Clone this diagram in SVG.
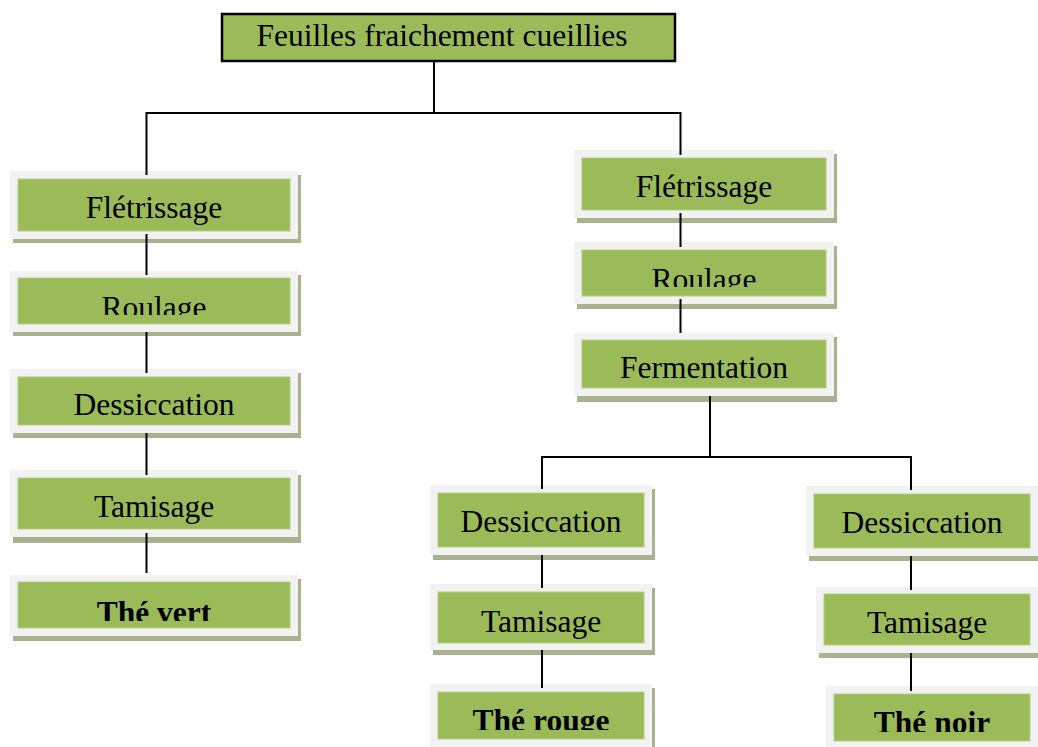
<svg xmlns="http://www.w3.org/2000/svg" width="1038" height="747" viewBox="0 0 1038 747">
<style>
.sh{fill:#a9b28f}
.fr{fill:#f2f2f2}
.gr{fill:#9bbb59;stroke:#b5cc85;stroke-width:1}
.t{font-family:"Liberation Serif","Times New Roman",serif;font-size:31.5px;fill:#000;text-anchor:middle}
.b{font-weight:bold}
.ln{stroke:#000;stroke-width:2;fill:none}
</style>
<defs>
<clipPath id="cL2"><rect x="18" y="278" width="272" height="37"/></clipPath>
<clipPath id="cL5"><rect x="18" y="582" width="272" height="39"/></clipPath>
<clipPath id="cR2"><rect x="582" y="250" width="244" height="37"/></clipPath>
<clipPath id="cM3"><rect x="438" y="692" width="206" height="38"/></clipPath>
<clipPath id="cB3"><rect x="834" y="694" width="196" height="38"/></clipPath>
</defs>
<rect width="1038" height="747" fill="#fff"/>

<g id="top">
<rect x="222" y="14" width="453" height="47" fill="#9bbb59" stroke="#000" stroke-width="2.5"/>
<text class="t" x="442" y="46">Feuilles fraichement cueillies</text>
</g>

<g id="L1"><rect class="sh" x="13" y="175" width="288" height="68"/><rect class="fr" x="10" y="171" width="288" height="68"/><rect class="gr" x="18" y="179" width="272" height="52"/><text class="t" x="154" y="218">Flétrissage</text></g>
<g id="L2"><rect class="sh" x="13" y="275" width="288" height="61"/><rect class="fr" x="10" y="271" width="288" height="61"/><rect class="gr" x="18" y="278" width="272" height="46"/><text class="t" x="154" y="318" clip-path="url(#cL2)">Roulage</text></g>
<g id="L3"><rect class="sh" x="13" y="373" width="288" height="65"/><rect class="fr" x="10" y="369" width="288" height="64"/><rect class="gr" x="18" y="377" width="272" height="48"/><text class="t" x="154" y="415">Dessiccation</text></g>
<g id="L4"><rect class="sh" x="13" y="475" width="288" height="68"/><rect class="fr" x="10" y="470" width="288" height="67"/><rect class="gr" x="18" y="478" width="272" height="51"/><text class="t" x="154" y="517">Tamisage</text></g>
<g id="L5"><rect class="sh" x="13" y="579" width="288" height="62"/><rect class="fr" x="10" y="575" width="288" height="61"/><rect class="gr" x="18" y="582" width="272" height="46"/><text class="t b" x="154" y="623" clip-path="url(#cL5)">Thé vert</text></g>

<g id="R1"><rect class="sh" x="577" y="154" width="260" height="69"/><rect class="fr" x="574" y="150" width="260" height="68"/><rect class="gr" x="582" y="158" width="244" height="52"/><text class="t" x="704" y="197">Flétrissage</text></g>
<g id="R2"><rect class="sh" x="577" y="246" width="260" height="63"/><rect class="fr" x="574" y="242" width="260" height="62"/><rect class="gr" x="582" y="250" width="244" height="46"/><text class="t" x="704" y="290" clip-path="url(#cR2)">Roulage</text></g>
<g id="R3"><rect class="sh" x="577" y="337" width="260" height="65"/><rect class="fr" x="574" y="333" width="260" height="63"/><rect class="gr" x="582" y="340" width="244" height="48"/><text class="t" x="704" y="378">Fermentation</text></g>

<g id="M1"><rect class="sh" x="433" y="489" width="222" height="71"/><rect class="fr" x="430" y="485" width="222" height="70"/><rect class="gr" x="438" y="493" width="206" height="54"/><text class="t" x="541" y="532">Dessiccation</text></g>
<g id="M2"><rect class="sh" x="433" y="588" width="222" height="67"/><rect class="fr" x="430" y="584" width="222" height="66"/><rect class="gr" x="438" y="592" width="206" height="51"/><text class="t" x="541" y="632">Tamisage</text></g>
<g id="M3"><rect class="sh" x="433" y="688" width="222" height="70"/><rect class="fr" x="430" y="684" width="222" height="63"/><rect class="gr" x="438" y="692" width="206" height="47"/><text class="t b" x="541" y="731" clip-path="url(#cM3)">Thé rouge</text></g>

<g id="B1"><rect class="sh" x="809" y="490" width="240" height="71"/><rect class="fr" x="806" y="486" width="240" height="70"/><rect class="gr" x="814" y="494" width="216" height="54"/><text class="t" x="922" y="533">Dessiccation</text></g>
<g id="B2"><rect class="sh" x="819" y="591" width="230" height="67"/><rect class="fr" x="816" y="587" width="230" height="66"/><rect class="gr" x="824" y="594" width="206" height="51"/><text class="t" x="927" y="633">Tamisage</text></g>
<g id="B3"><rect class="sh" x="829" y="690" width="220" height="70"/><rect class="fr" x="826" y="686" width="220" height="61"/><rect class="gr" x="834" y="694" width="196" height="47"/><text class="t b" x="932" y="733" clip-path="url(#cB3)">Thé noir</text></g>

<g id="connectors" class="ln">
<path d="M434 62V113M146.5 113H681M146.5 112V175M680.5 112V155"/>
<path d="M146.5 234V275M146.5 332V373M146.5 433V475M146.5 533V573"/>
<path d="M680.5 213V247M680.5 299V333"/>
<path d="M710 396V457M542 457H911M542 456V489M911 456V490"/>
<path d="M542 555V588M542 650V688"/>
<path d="M911 556V590M911 653V691"/>
</g>
</svg>
